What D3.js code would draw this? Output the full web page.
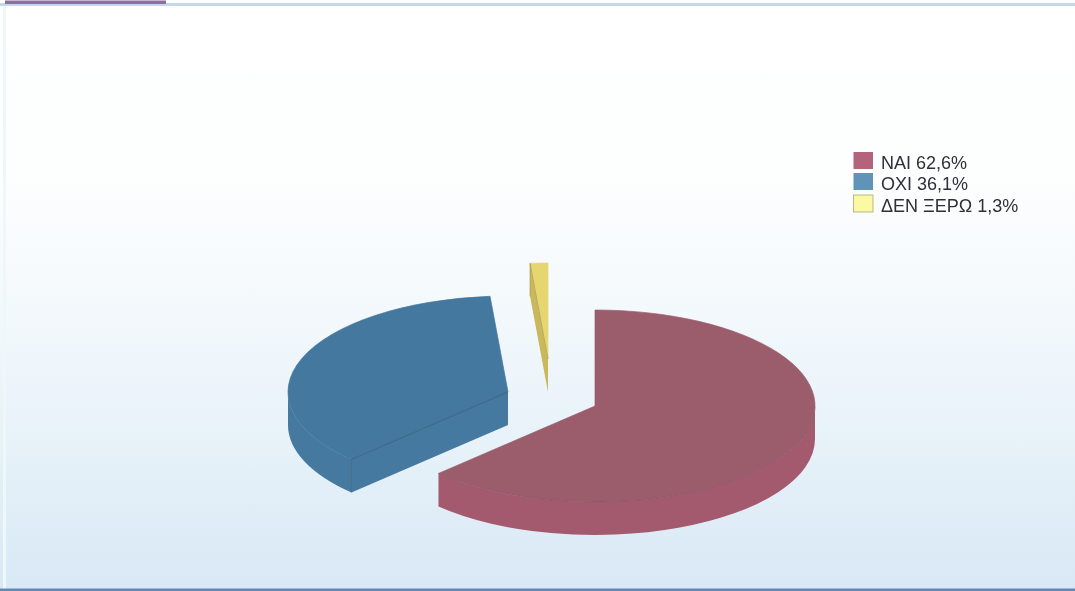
<!DOCTYPE html>
<html><head><meta charset="utf-8">
<script src="https://cdn.jsdelivr.net/npm/d3@7/dist/d3.min.js"></script>
<style>html,body{margin:0;padding:0;background:#fff}svg{display:block}text{font-family:"Liberation Sans",Arial,sans-serif}</style>
</head><body><div id="chart"></div>
<script>
const categories = ["ΝΑΙ", "ΟΧΙ", "ΔΕΝ ΞΕΡΩ"];
const values = [62.6, 36.1, 1.3];
const valueLabels = ["62,6%", "36,1%", "1,3%"];
const topColors = ["#9b5b6c", "#44789f", "#e6d670"];
const wallColors = ["#a45a6e", "#44799f", "#c9b85c"];
const swatchColors = ["#b4647c", "#5f93b8", "#fbf9a2"];
const rimOpacity = [0.22, 0, 0.8];
const cutOpacity = [0, 0.7, 0.8];

const W = 1075, H = 591;
const rx = 220, ry = 96, depth = 33;
const centers = [[595, 406], [508, 392], [548, 359]];

const svg = d3.select("#chart").append("svg").attr("width", W).attr("height", H);
const defs = svg.append("defs");
const grad = defs.append("linearGradient").attr("id", "bg").attr("x1", 0).attr("y1", 0).attr("x2", 0).attr("y2", 1);
[[0, "#ffffff"], [0.3, "#fdfefe"], [0.55, "#f2f8fc"], [0.8, "#e4f0f8"], [1, "#d8e8f5"]]
  .forEach(([o, c]) => grad.append("stop").attr("offset", o).attr("stop-color", c));
defs.append("filter").attr("id", "soft").attr("x", "-5%").attr("y", "-5%").attr("width", "110%").attr("height", "110%")
  .append("feGaussianBlur").attr("stdDeviation", 0.5);

svg.append("rect").attr("width", W).attr("height", H).attr("fill", "url(#bg)");
const frame = svg.append("g").attr("filter", "url(#soft)");
frame.append("rect").attr("x", 0).attr("y", 3).attr("width", W).attr("height", 3).attr("fill", "#c3d8ec");
frame.append("rect").attr("x", 5).attr("y", 0.5).attr("width", 161).attr("height", 3.5).attr("fill", "#8a6f9f");
frame.append("rect").attr("x", 3).attr("y", 6).attr("width", 3).attr("height", H - 8).attr("fill", "#eef8f8");
frame.append("rect").attr("x", 0).attr("y", H - 2.5).attr("width", W).attr("height", 2.5).attr("fill", "#6289b6");

const pie = d3.pie().sort(null).value(d => d)(values);
const g = svg.append("g").attr("filter", "url(#soft)");

function pt(c, a, dy = 0) {
  return [c[0] + rx * Math.sin(a), c[1] - ry * Math.cos(a) + dy];
}
function arcTo(c, a0, a1, dy = 0) {
  const [x, y] = pt(c, a1, dy);
  const large = Math.abs(a1 - a0) > Math.PI ? 1 : 0;
  const sweep = a1 > a0 ? 1 : 0;
  return `A${rx},${ry} 0 ${large} ${sweep} ${x},${y}`;
}
[2, 1, 0].forEach(i => {
  const c = centers[i], a0 = pie[i].startAngle, a1 = pie[i].endAngle;
  const stroke = d3.color(topColors[i]).darker(1.1);
  const layer = g.append("g");
  const w0 = Math.max(a0, Math.PI / 2), w1 = Math.min(a1, Math.PI * 1.5);
  if (w1 > w0) {
    const p0 = pt(c, w0), p1 = pt(c, w1, depth);
    layer.append("path")
      .attr("d", `M${p0} ${arcTo(c, w0, w1)} L${p1} ${arcTo(c, w1, w0, depth)} Z`)
      .attr("fill", wallColors[i]);
  }
  if (a0 > Math.PI) {
    layer.append("path")
      .attr("d", `M${c} L${pt(c, a0)} L${pt(c, a0, depth)} L${[c[0], c[1] + depth]} Z`)
      .attr("fill", wallColors[i]);
  }
  const s = pt(c, a0);
  layer.append("path")
    .attr("d", `M${c} L${s} ${arcTo(c, a0, a1)} Z`)
    .attr("fill", topColors[i]).attr("stroke", topColors[i]).attr("stroke-width", 0.7);
  if (w1 > w0) {
    layer.append("path").attr("d", `M${pt(c, w0)} ${arcTo(c, w0, w1)}`)
      .attr("fill", "none").attr("stroke", stroke).attr("stroke-width", 0.8).attr("opacity", rimOpacity[i]);
  }
  if (a0 > Math.PI) {
    layer.append("path").attr("d", `M${c} L${s} L${pt(c, a0, depth)}`)
      .attr("fill", "none").attr("stroke", stroke).attr("stroke-width", 0.8).attr("opacity", cutOpacity[i]);
  }
});

const leg = svg.append("g").attr("filter", "url(#soft)");
const rowY = [152, 173, 195];
categories.forEach((cat, i) => {
  leg.append("rect").attr("x", 853.5).attr("y", rowY[i]).attr("width", 19.5).attr("height", 17)
    .attr("fill", swatchColors[i]).attr("stroke", i === 2 ? "#a9a878" : "none").attr("stroke-width", 0.8);
  leg.append("text").attr("x", 881).attr("y", rowY[i] + 17)
    .attr("font-size", 18).attr("fill", "#2c3138")
    .text(`${cat} ${valueLabels[i]}`);
});
</script></body></html>
